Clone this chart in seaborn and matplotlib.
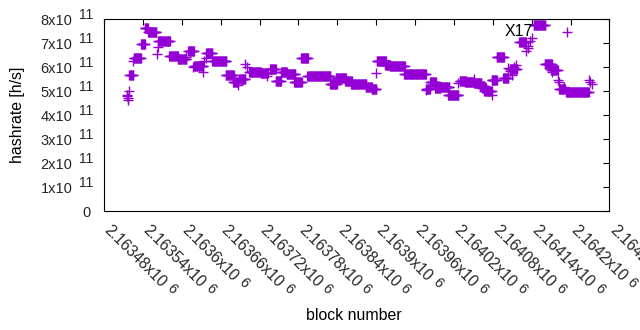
import numpy as np
import pandas as pd
import matplotlib
matplotlib.use("Agg")
import matplotlib.pyplot as plt
import matplotlib.transforms as mtransforms
from matplotlib.font_manager import FontProperties
import seaborn as sns

# runs of consecutive blocks that share one hashrate estimate (x1e11 h/s)
run_start = [2163519, 2163526, 2163537, 2163543, 2163548, 2163564, 2163581, 2163594,
             2163610, 2163619, 2163638, 2163647, 2163668, 2163679, 2163689, 2163704,
             2163722, 2163736, 2163745, 2163753, 2163762, 2163773, 2163784, 2163794,
             2163829, 2163838, 2163852, 2163861, 2163884, 2163893, 2163901, 2163914,
             2163921, 2163943, 2163977, 2163983, 2163991, 2163999, 2164011, 2164029,
             2164037, 2164051, 2164060, 2164064, 2164067, 2164078, 2164086, 2164097,
             2164106, 2164121, 2164143, 2164160, 2164170, 2164182, 2164193]
run_end = [2163525, 2163537, 2163543, 2163548, 2163561, 2163582, 2163594, 2163607,
           2163619, 2163633, 2163647, 2163669, 2163680, 2163687, 2163698, 2163722,
           2163733, 2163745, 2163753, 2163762, 2163775, 2163785, 2163795, 2163829,
           2163839, 2163853, 2163862, 2163885, 2163893, 2163900, 2163915, 2163921,
           2163944, 2163977, 2163983, 2163992, 2163999, 2164013, 2164027, 2164039,
           2164051, 2164062, 2164067, 2164069, 2164078, 2164086, 2164097, 2164104,
           2164117, 2164131, 2164161, 2164171, 2164180, 2164191, 2164228]
run_val = [5.67, 6.38, 6.97, 7.62, 7.47, 7.10, 6.46, 6.33,
           6.69, 6.06, 6.59, 6.24, 5.66, 5.40, 5.50, 5.80,
           5.75, 5.93, 5.42, 5.80, 5.72, 5.40, 6.38, 5.64,
           5.31, 5.55, 5.43, 5.31, 5.17, 5.10, 6.27, 6.10,
           6.05, 5.71, 5.10, 5.38, 5.13, 5.17, 4.83, 5.43,
           5.38, 5.35, 5.22, 5.13, 4.99, 5.46, 6.42, 5.56,
           5.92, 7.05, 7.77, 6.13, 5.89, 5.10, 4.96]

# isolated blocks
single_block = [2163515, 2163516, 2163517, 2163517, 2163519, 2163524, 2163562, 2163563,
                2163606, 2163618, 2163633, 2163634, 2163637, 2163687, 2163698, 2163700,
                2163732, 2163900, 2163977, 2164027, 2164051, 2164078, 2164096, 2164104,
                2164107, 2164110, 2164113, 2164116, 2164131, 2164134, 2164135, 2164138,
                2164140, 2164172, 2164181, 2164182, 2164190, 2164195, 2164229, 2164230,
                2164233]
single_val = [4.85, 4.78, 4.70, 4.64, 5.00, 6.24, 6.55, 6.84,
              6.44, 6.03, 5.82, 6.24, 6.38, 5.24, 6.12, 5.99,
              5.62, 5.77, 5.03, 5.35, 5.52, 4.85, 5.55, 5.96,
              5.85, 5.68, 6.00, 6.10, 6.69, 6.80, 6.89, 7.08,
              7.22, 5.80, 5.45, 5.40, 5.19, 7.47, 5.47, 5.40,
              5.28]

xtick_vals = [2163480, 2163540, 2163600, 2163660, 2163720, 2163780, 2163840,
              2163900, 2163960, 2164020, 2164080, 2164140, 2164200, 2164260]
xtick_mant = ["2.16348", "2.16354", "2.1636", "2.16366", "2.16372", "2.16378",
              "2.16384", "2.1639", "2.16396", "2.16402", "2.16408", "2.16414",
              "2.1642", "2.16426"]
x_exp = "6"
ytick_vals = [0, 1e11, 2e11, 3e11, 4e11, 5e11, 6e11, 7e11, 8e11]
ytick_mant = ["0", "1", "2", "3", "4", "5", "6", "7", "8"]
y_exp = "11"

blocks = []
rates = []
for a, b, v in zip(run_start, run_end, run_val):
    for blk in range(a, b + 1):
        blocks.append(blk)
        rates.append(v * 1e11)
blocks += single_block
rates += [v * 1e11 for v in single_val]
df = pd.DataFrame({"block": blocks, "hashrate": rates})

sns.set_theme(style="white")
plt.rcParams["font.family"] = ["Liberation Sans", "DejaVu Sans"]

TICK_FS = 10.5
XTICK_FS = 11.2
SUP_FS = 10
LABEL_FS = 11.4

fig = plt.figure(figsize=(6.4, 3.3), dpi=100)
ax = fig.add_axes([0.1625, 0.3606, 0.7898, 0.5809])

sns.scatterplot(data=df, x="block", y="hashrate", marker="+", s=45,
                color="#9400D3", linewidth=1.0, ax=ax, legend=False)

ax.set_xlim(xtick_vals[0], xtick_vals[-1])
ax.set_ylim(0, 8e11)
ax.set_xticks(xtick_vals)
ax.set_yticks(ytick_vals)
ax.set_xticklabels([])
ax.set_yticklabels([])
ax.tick_params(axis="both", direction="in", length=4, width=0.8, color="black",
               top=True, right=True)
for spine in ax.spines.values():
    spine.set_color("black")
    spine.set_linewidth(0.8)
ax.set_xlabel("")
ax.set_ylabel("")

renderer = fig.canvas.get_renderer()
fp_xtick = FontProperties(family=["Liberation Sans"], size=XTICK_FS)

# y tick labels in gnuplot style: mantissa "x10" and a raised exponent
ytrans = ax.get_yaxis_transform()
for v, m in zip(ytick_vals, ytick_mant):
    if m == "0":
        t = mtransforms.offset_copy(ytrans, fig=fig, x=-13.5, y=-5.9, units="dots")
        ax.text(0, v, "0", transform=t, ha="right", va="baseline", fontsize=TICK_FS)
        continue
    t = mtransforms.offset_copy(ytrans, fig=fig, x=-31.5, y=-5.9, units="dots")
    ax.text(0, v, m + "x10", transform=t, ha="right", va="baseline", fontsize=TICK_FS)
    t = mtransforms.offset_copy(ytrans, fig=fig, x=-24.8, y=0.5, units="dots")
    ax.text(0, v, y_exp, transform=t, ha="left", va="baseline", fontsize=SUP_FS)

# x tick labels rotated by -45 degrees, exponent placed after the mantissa
xtrans = ax.get_xaxis_transform()
c = np.cos(np.radians(45))
gap, rise = 5.0, 3.0
for v, m in zip(xtick_vals, xtick_mant):
    s = m + "x10"
    w, _, _ = renderer.get_text_width_height_descent(s, fp_xtick, ismath=False)
    bx, by = -0.5, -19.5
    t = mtransforms.offset_copy(xtrans, fig=fig, x=bx, y=by, units="dots")
    ax.text(v, 0, s, transform=t, rotation=-45, rotation_mode="anchor",
            ha="left", va="baseline", fontsize=XTICK_FS, clip_on=False)
    sx = bx + (w + gap) * c + rise * c
    sy = by - (w + gap) * c + rise * c
    t = mtransforms.offset_copy(xtrans, fig=fig, x=sx, y=sy, units="dots")
    ax.text(v, 0, x_exp, transform=t, rotation=-45, rotation_mode="anchor",
            ha="left", va="baseline", fontsize=SUP_FS, clip_on=False)

ax.text(2164120, 7.48e11, "X17", ha="center", va="center", fontsize=LABEL_FS,
        color="black")

fig.text(354 / 640, 1 - 315 / 330, "block number", ha="center", va="center",
         fontsize=LABEL_FS, color="black")
fig.text(18 / 640, 1 - 115 / 330, "hashrate [h/s]", ha="center", va="center",
         rotation=90, fontsize=LABEL_FS, color="black")

plt.savefig("out.png", dpi=100)
